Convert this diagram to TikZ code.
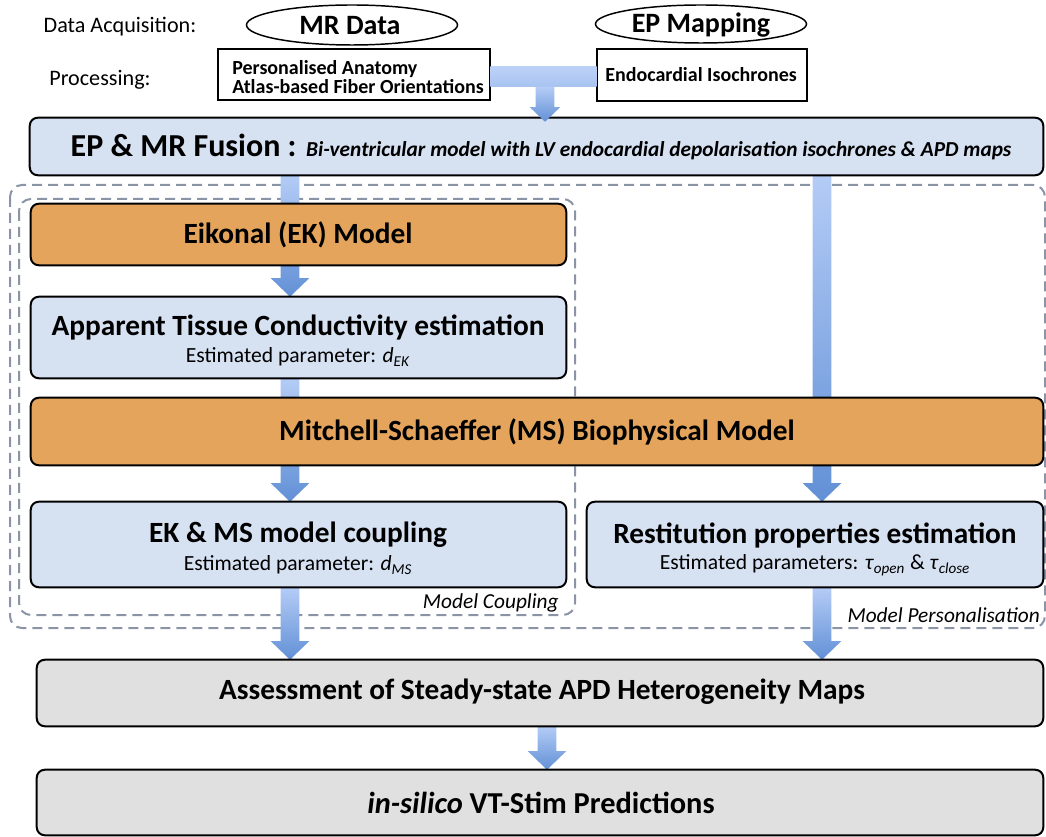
\documentclass[tikz,border=0pt]{standalone}
\usepackage{fontspec}
\setmainfont{Carlito}
\usetikzlibrary{calc,fit,shapes.geometric}
\definecolor{boxblue}{RGB}{214,225,242}
\definecolor{boxorange}{RGB}{228,164,92}
\definecolor{boxgray}{RGB}{224,224,224}
\definecolor{dashgray}{RGB}{138,148,166}
\definecolor{arrtop}{RGB}{180,204,246}
\definecolor{arrbot}{RGB}{98,144,214}
\newcommand{\fatarrow}[5]{% start, end, shaft half, head half, head length
  \shade[top color=arrtop,bottom color=arrbot] let \p1=(#1),\p2=(#2) in
    (\x1-#3,\y1) -- (\x1-#3,\y2+#5) -- (\x1-#4,\y2+#5) -- (\x1,\y2) --
    (\x1+#4,\y2+#5) -- (\x1+#3,\y2+#5) -- (\x1+#3,\y1) -- cycle;}
\tikzset{
  boxbase/.style={draw=black,line width=1.5pt,rounded corners=6pt,inner sep=0pt},
  bluebox/.style={boxbase,fill=boxblue},
  orangebox/.style={boxbase,fill=boxorange},
  graybox/.style={boxbase,fill=boxgray},
  procbox/.style={draw=black,line width=1.5pt,fill=white,inner sep=0pt},
  oval/.style={ellipse,draw=black,line width=1.1pt,fill=white,inner sep=0pt},
  dashbox/.style={draw=dashgray,line width=1.5pt,dash pattern=on 7.5pt off 4.5pt,rounded corners=9pt},
  ttl/.style={font=\bfseries\fontsize{22}{26}\selectfont,inner sep=0pt},
  sub/.style={font=\fontsize{16.2}{19}\selectfont,inner sep=0pt},
  lbl/.style={font=\fontsize{16.6}{19}\selectfont,inner sep=0pt},
  ovl/.style={font=\bfseries\fontsize{21}{25}\selectfont,inner sep=0pt},
  proc/.style={font=\bfseries\fontsize{15}{14.5}\selectfont,inner sep=0pt},
  grp/.style={font=\itshape\fontsize{16}{19}\selectfont,inner sep=0pt},
}
\begin{document}
\begin{tikzpicture}[x=0.75pt,y=-0.75pt]
\useasboundingbox (0,0) rectangle (1046,837);
% column coordinates
\coordinate (lx) at (290,0);
\coordinate (rx) at (822,0);
\coordinate (mx) at (547,0);
\coordinate (tx) at (545,0);
\coordinate (bar1) at (0,67);
\coordinate (bar2) at (0,87);
% group frames
\draw[dashbox] (10,185) rectangle (1045,628);
\draw[dashbox] (19,199) rectangle (575,615);
% boxes (named, empty) - positions
\path node[fit={(30,118) (1043,175)},inner sep=0pt] (fusion) {}
      node[fit={(31,204) (566,265)},inner sep=0pt] (eik) {}
      node[fit={(31,297) (566,378)},inner sep=0pt] (atc) {}
      node[fit={(31,398) (1043,465)},inner sep=0pt] (ms) {}
      node[fit={(31,502) (566,587)},inner sep=0pt] (ekms) {}
      node[fit={(587,502) (1043,587)},inner sep=0pt] (rest) {}
      node[fit={(37,660) (1043,726)},inner sep=0pt] (assess) {}
      node[fit={(37,770) (1043,835)},inner sep=0pt] (insil) {}
      node[fit={(218,49) (490,100)},inner sep=0pt] (pa) {}
      node[fit={(597,49) (807,101)},inner sep=0pt] (ei) {};
% arrows behind boxes
\fatarrow{lx |- fusion.south}{lx |- atc.north}{7pt}{14.5pt}{14pt}
\fatarrow{lx |- atc.south}{lx |- ekms.north}{7pt}{14.5pt}{14pt}
\fatarrow{lx |- ekms.south}{lx |- assess.north}{7pt}{14.5pt}{14pt}
\fatarrow{rx |- fusion.south}{rx |- rest.north}{7pt}{14.5pt}{14pt}
\fatarrow{rx |- rest.south}{rx |- assess.north}{7pt}{14.5pt}{14pt}
\fatarrow{mx |- assess.south}{mx |- insil.north}{7pt}{14.5pt}{14pt}
% drawn boxes
\draw[bluebox] (fusion.north west) rectangle (fusion.south east);
\draw[orangebox] (eik.north west) rectangle (eik.south east);
\draw[bluebox] (atc.north west) rectangle (atc.south east);
\draw[orangebox] (ms.north west) rectangle (ms.south east);
\draw[bluebox] (ekms.north west) rectangle (ekms.south east);
\draw[bluebox] (rest.north west) rectangle (rest.south east);
\draw[graybox] (assess.north west) rectangle (assess.south east);
\draw[graybox] (insil.north west) rectangle (insil.south east);
\draw[procbox] (pa.north west) rectangle (pa.south east);
\draw[procbox] (ei.north west) rectangle (ei.south east);
% top connector
\shade[top color=arrtop!90!white,bottom color=arrtop!85!arrbot] (pa.east |- bar1) rectangle (ei.west |- bar2);
\fatarrow{tx |- bar2}{$(tx |- fusion.north)+(0,4)$}{7pt}{11.5pt}{11pt}
% ovals
\node[oval,minimum width=211*0.75pt,minimum height=40*0.75pt] (mr) at (352,25) {};
\node[oval,minimum width=211*0.75pt,minimum height=38*0.75pt] (ep) at (701,24) {};
\node[ovl] (mrt) at (350,26) {MR Data};
\node[ovl] (ept) at (701,25) {EP Mapping};
% left labels
\node[lbl] (acq) at (120,27) {Data Acquisition:};
\node[lbl] (proc) at (100,80) {Processing:};
% processing texts
\node[proc,align=left,anchor=west] (pat) at (232,77) {Personalised Anatomy\\Atlas-based Fiber Orientations};
\node[proc] (eit) at (701,75) {Endocardial Isochrones};
% fusion text
\node[inner sep=0pt] (fust) at (541,147) {{\bfseries\fontsize{24}{28}\selectfont EP \& MR Fusion : }{\bfseries\itshape\fontsize{16}{19}\selectfont Bi-ventricular model with LV endocardial depolarisation isochrones \& APD maps}};
% box texts
\node[ttl] (eikt) at (298,235) {Eikonal (EK) Model};
\node[ttl] (atct) at (298,327) {Apparent Tissue Conductivity estimation};
\node[sub] (atcs) at (298,357) {Estimated parameter: \textit{d}\textsubscript{\textit{EK}}};
\node[ttl] (mst) at (537,432) {Mitchell-Schaeffer (MS) Biophysical Model};
\node[ttl] (ekmst) at (298,535) {EK \& MS model coupling};
\node[sub] (ekmss) at (298,565) {Estimated parameter: \textit{d}\textsubscript{\textit{MS}}};
\node[ttl] (restt) at (815,535) {Restitution properties estimation};
\node[sub] (rests) at (815,565) {Estimated parameters: \textit{τ}\textsubscript{\textit{open}} \& \textit{τ}\textsubscript{\textit{close}}};
\node[grp,anchor=east] (mcl) at (559,603) {Model Coupling};
\node[grp,anchor=east] (mpl) at (1040,615) {Model Personalisation};
\node[ttl] (asst) at (542,692) {Assessment of Steady-state APD Heterogeneity Maps};
\node[ttl,font=\bfseries\fontsize{22.8}{26}\selectfont] (inst) at (541,803) {\textit{in-silico} VT-Stim Predictions};
\end{tikzpicture}
\end{document}
